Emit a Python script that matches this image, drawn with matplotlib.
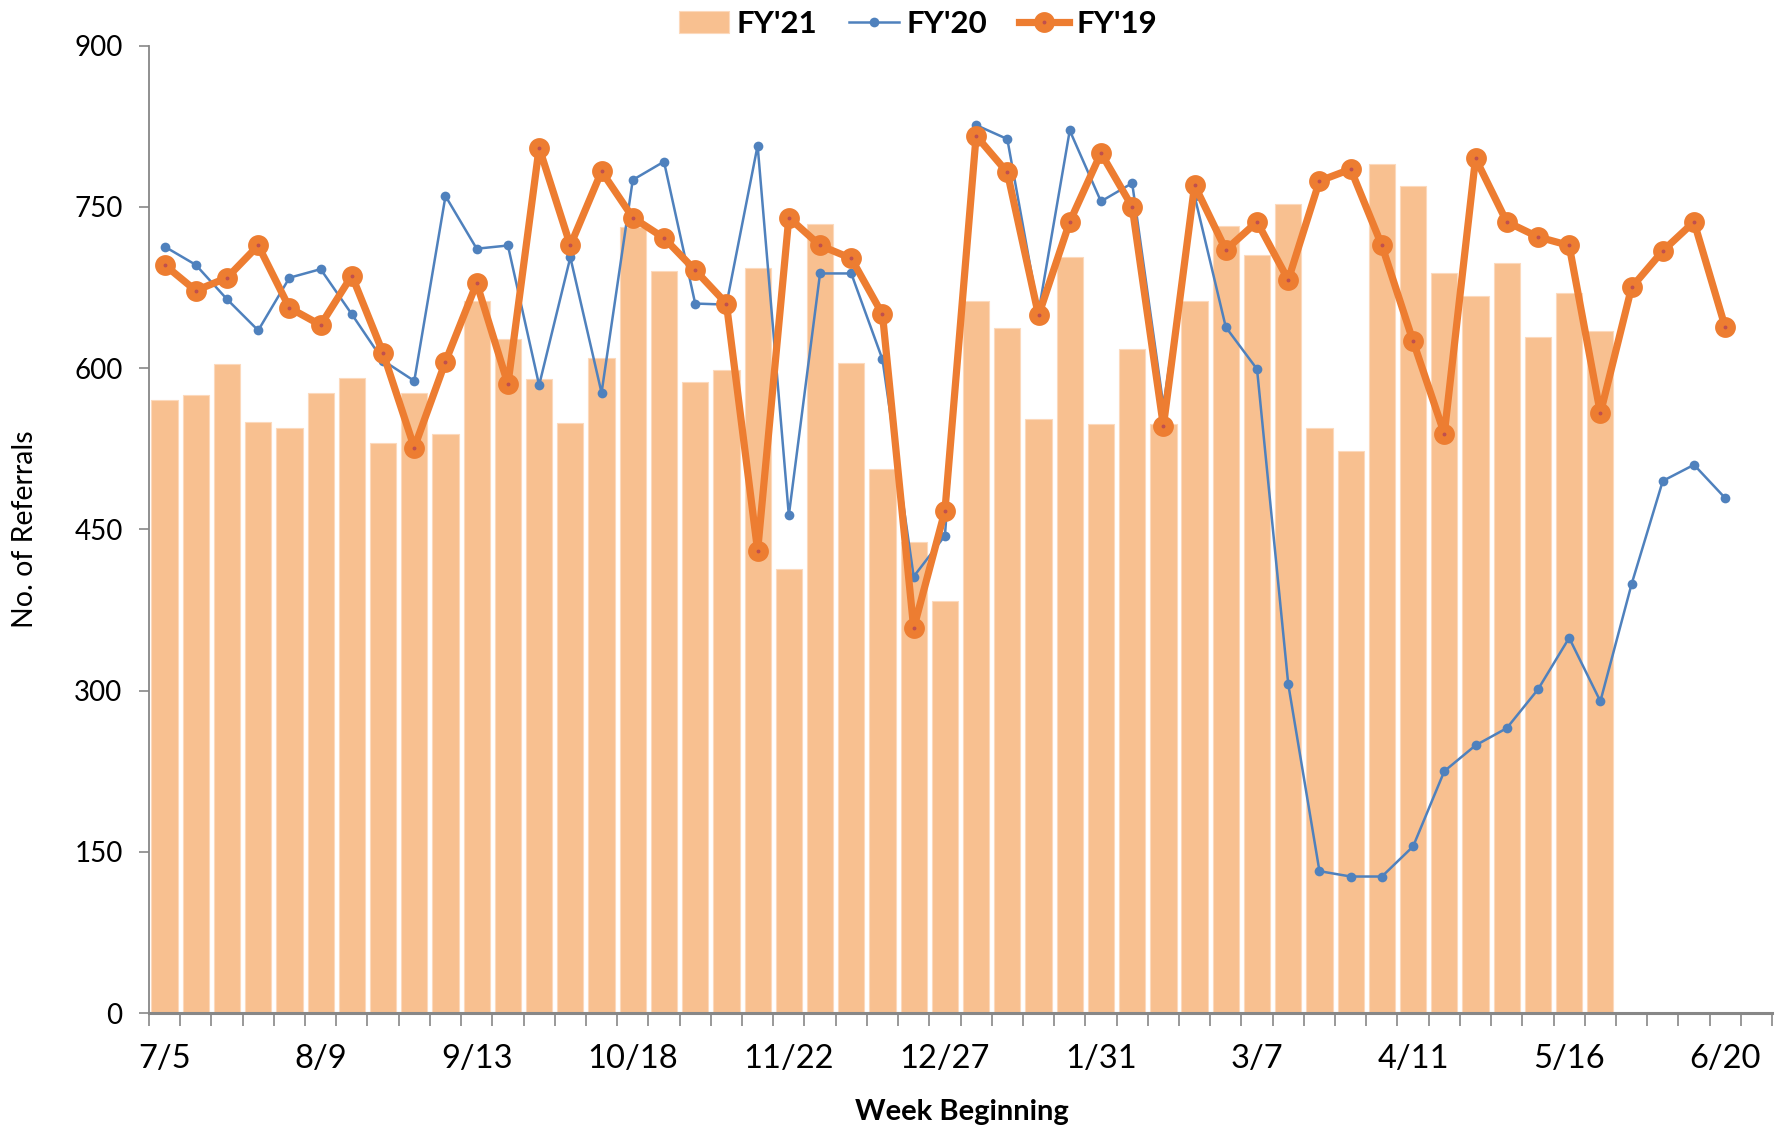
import matplotlib
matplotlib.use('Agg')
import matplotlib.pyplot as plt
import numpy as np

# ---- data ----
weeks = ["7/5", "7/12", "7/19", "7/26", "8/2", "8/9", "8/16", "8/23", "8/30", "9/6",
         "9/13", "9/20", "9/27", "10/4", "10/11", "10/18", "10/25", "11/1", "11/8", "11/15",
         "11/22", "11/29", "12/6", "12/13", "12/20", "12/27", "1/3", "1/10", "1/17", "1/24",
         "1/31", "2/7", "2/14", "2/21", "2/28", "3/7", "3/14", "3/21", "3/28", "4/4",
         "4/11", "4/18", "4/25", "5/2", "5/9", "5/16", "5/23", "5/30", "6/6", "6/13",
         "6/20", "6/27"]

fy21 = [570, 575, 604, 550, 544, 577, 591, 530, 577, 539,
        662, 627, 590, 549, 609, 731, 690, 587, 598, 693,
        413, 734, 605, 506, 438, 383, 662, 637, 553, 703,
        548, 618, 548, 662, 732, 705, 753, 544, 523, 790,
        769, 688, 667, 698, 629, 670, 634]

fy20 = [713, 696, 664, 635, 684, 692, 650, 607, 588, 760,
        711, 714, 584, 703, 577, 775, 792, 660, 659, 807,
        463, 688, 688, 608, 406, 444, 826, 813, 652, 821,
        755, 772, 565, 760, 638, 599, 306, 132, 127, 127,
        155, 225, 249, 265, 301, 349, 290, 399, 495, 510,
        479]

fy19 = [696, 672, 684, 714, 656, 640, 686, 614, 526, 606,
        679, 585, 805, 714, 783, 740, 721, 691, 660, 430,
        740, 714, 702, 650, 358, 467, 816, 782, 649, 736,
        800, 750, 546, 770, 710, 736, 682, 774, 785, 714,
        625, 539, 795, 736, 722, 714, 558, 675, 709, 736,
        638]

yticks = [0, 150, 300, 450, 600, 750, 900]

# ---- styling ----
plt.rcParams['font.family'] = ['Lato', 'DejaVu Sans']
axis_gray = '#878787'

fig = plt.figure(figsize=(17.84, 11.30), dpi=100)
ax = fig.add_axes([0.0835, 0.1035, 0.9098, 0.8562])

ax.bar(np.arange(len(fy21)), fy21, width=0.84, color='#F8C090',
       edgecolor='#FCD9BC', linewidth=0.8, label="FY'21", zorder=1)
ax.plot(np.arange(len(fy20)), fy20, color='#4F81BD', lw=1.8, marker='o',
        ms=7, mew=0, label="FY'20", zorder=2)
ax.plot(np.arange(len(fy19)), fy19, color='#ED7D31', lw=5.2, marker='o',
        ms=9, mew=6, mec='#ED7D31', mfc='#C0504D', label="FY'19", zorder=3)

ax.set_xlim(-0.5, len(weeks) - 0.5)
ax.set_ylim(0, 900)

ax.set_yticks(yticks)
ax.set_yticklabels([str(v) for v in yticks])

major = list(range(0, len(weeks), 5))
ax.set_xticks(major)
ax.set_xticklabels([weeks[i] for i in major])
ax.set_xticks(np.arange(-0.5, len(weeks), 1), minor=True)

ax.tick_params(axis='y', length=7, width=1.2, color=axis_gray, pad=12,
               labelsize=20)
ax.tick_params(axis='x', which='major', length=0, pad=22, labelsize=23.5)
ax.tick_params(axis='x', which='minor', length=9, width=1.2, color=axis_gray)

for s in ['top', 'right']:
    ax.spines[s].set_visible(False)
ax.spines['left'].set_color(axis_gray)
ax.spines['left'].set_linewidth(1.3)
ax.spines['bottom'].set_color(axis_gray)
ax.spines['bottom'].set_linewidth(2.2)

handles, labels = ax.get_legend_handles_labels()
order = [labels.index("FY'21"), labels.index("FY'20"), labels.index("FY'19")]
fig.legend([handles[i] for i in order], [labels[i] for i in order],
           loc='center', bbox_to_anchor=(0.5146, 0.979), ncol=3, frameon=False,
           prop={'weight': 'bold', 'size': 22.5}, handlelength=1.6,
           handletextpad=0.25, columnspacing=1.0)

fig.text(0.014, 0.532, 'No. of Referrals', rotation=90, va='center',
         ha='center', fontsize=20.5)
fig.text(0.539, 0.016, 'Week Beginning', ha='center', va='center',
         fontsize=21, weight='bold')

fig.savefig('out.png', dpi=100)
